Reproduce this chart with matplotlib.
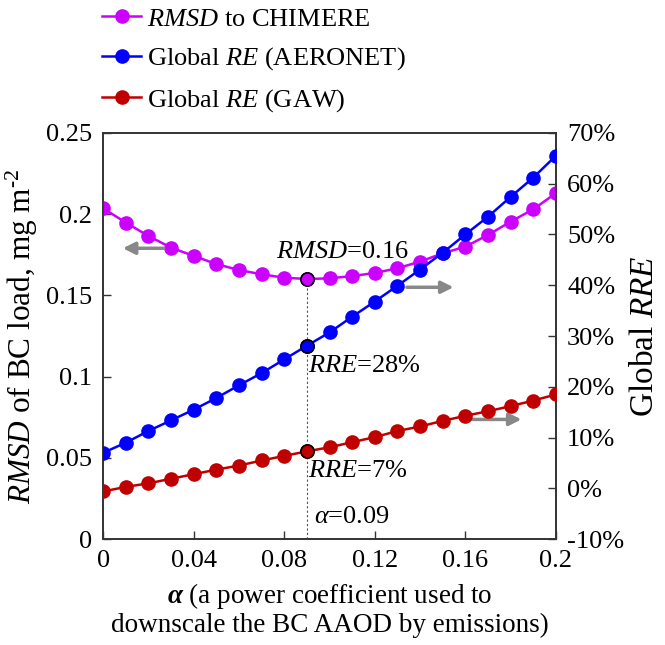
import numpy as np
import matplotlib
matplotlib.use('Agg')
import matplotlib.pyplot as plt
from matplotlib.ticker import FuncFormatter

plt.rcParams['font.family'] = 'Liberation Serif'
plt.rcParams['mathtext.fontset'] = 'custom'
plt.rcParams['mathtext.rm'] = 'Liberation Serif'
plt.rcParams['mathtext.it'] = 'Liberation Serif:italic'
plt.rcParams['mathtext.bf'] = 'Liberation Serif:bold:italic'

# %% data
alpha = [0.00, 0.01, 0.02, 0.03, 0.04, 0.05, 0.06, 0.07, 0.08, 0.09, 0.10,
         0.11, 0.12, 0.13, 0.14, 0.15, 0.16, 0.17, 0.18, 0.19, 0.20]
rmsd = [0.2036, 0.1948, 0.1866, 0.1794, 0.1743, 0.1693, 0.1656, 0.1630, 0.1609,
        0.1601, 0.1605, 0.1619, 0.1638, 0.1667, 0.1708, 0.1759, 0.1800, 0.1872,
        0.1954, 0.2030, 0.2129]
re_aeronet = [7.0, 9.0, 11.3, 13.4, 15.5, 17.8, 20.3, 22.7, 25.4, 28.1, 30.7,
              33.8, 36.8, 39.9, 43.1, 46.4, 50.0, 53.5, 57.4, 61.2, 65.5]
re_gaw = [-0.6, 0.3, 1.0, 1.9, 2.8, 3.7, 4.5, 5.5, 6.4, 7.3, 8.1,
          9.1, 10.1, 11.3, 12.2, 13.3, 14.3, 15.2, 16.2, 17.3, 18.5]
best = 9  # index of alpha = 0.09

c_rmsd = '#cc00ff'
c_aer = '#0000ff'
c_gaw = '#c00000'

# %%
fig = plt.figure(figsize=(6.65, 6.45), dpi=100)
ax = fig.add_axes([0.155, 0.164, 0.681, 0.630])
ax2 = ax.twinx()

l1, = ax.plot(alpha, rmsd, '-o', color=c_rmsd, lw=1.8, ms=9.5, zorder=3)
l2, = ax2.plot(alpha, re_aeronet, '-o', color=c_aer, lw=1.8, ms=9.5, zorder=3)
l3, = ax2.plot(alpha, re_gaw, '-o', color=c_gaw, lw=1.8, ms=9.5, zorder=3)

# highlighted points at the optimum
ax.plot(alpha[best], rmsd[best], 'o', color=c_rmsd, mec='k', mew=1.2, ms=9.5, zorder=4)
ax2.plot(alpha[best], re_aeronet[best], 'o', color=c_aer, mec='k', mew=1.2, ms=9.5, zorder=4)
ax2.plot(alpha[best], re_gaw[best], 'o', color=c_gaw, mec='k', mew=1.2, ms=9.5, zorder=4)
ax.plot([alpha[best], alpha[best]], [0, rmsd[best]], ls=(0, (2, 2)), color='#555555', lw=0.8, zorder=2)

ax.set_xlim(0, 0.2)
ax.set_ylim(0, 0.25)
ax2.set_ylim(-10, 70)

ax.set_xticks([0, 0.04, 0.08, 0.12, 0.16, 0.2])
ax.set_xticklabels(['0', '0.04', '0.08', '0.12', '0.16', '0.2'])
ax.set_yticks([0, 0.05, 0.1, 0.15, 0.2, 0.25])
ax.set_yticklabels(['0', '0.05', '0.1', '0.15', '0.2', '0.25'])
ax2.set_yticks(range(-10, 71, 10))
ax2.yaxis.set_major_formatter(FuncFormatter(lambda v, p: f'{v:.0f}%'))

for a in (ax, ax2):
    a.tick_params(direction='in', labelsize=19, length=6, width=1, colors='#333333',
                  labelcolor='k', pad=8)
    for s in a.spines.values():
        s.set_color('#333333')
        s.set_linewidth(1.2)

# arrows pointing to the axes
arrow = dict(arrowstyle='-|>', color='#888888', lw=2.5, mutation_scale=18)
ax.annotate('', xy=(0.0075, 0.179), xytext=(0.028, 0.179), arrowprops=arrow)
ax.annotate('', xy=(0.156, 0.155), xytext=(0.133, 0.155), arrowprops=arrow)
ax.annotate('', xy=(0.186, 0.0737), xytext=(0.162, 0.0737), arrowprops=arrow)

ax.text(0.1055, 0.177, '$RMSD$=0.16', fontsize=19, ha='center', va='center', zorder=5)
ax2.text(0.0905, 24.2, '$RRE$=28%', fontsize=19, ha='left', va='center', zorder=5)
ax2.text(0.0905, 3.4, '$RRE$=7%', fontsize=19, ha='left', va='center', zorder=5)
ax.text(0.093, 0.0137, r'$\alpha$=0.09', fontsize=19, ha='left', va='center', zorder=5)

ax.set_ylabel(r'$RMSD$ of BC load, mg m$^{\text{-2}}$', fontsize=22.5, labelpad=4)
ax2.set_ylabel('Global $RRE$', fontsize=24, labelpad=4)
ax.set_xlabel(r'$\mathbf{\alpha}$ (a power coefficient used to' + '\n'
              'downscale the BC AAOD by emissions)', fontsize=19.5, labelpad=6,
              linespacing=1.1)

fig.legend([l1, l2, l3],
           ['$RMSD$ to CHIMERE', 'Global $RE$ (AERONET)', 'Global $RE$ (GAW)'],
           loc='upper left', bbox_to_anchor=(0.153, 0.989), frameon=False,
           fontsize=19, handlelength=1.5, handletextpad=0.2, labelspacing=0.56,
           borderpad=0.0, borderaxespad=0.0)

fig.savefig('out.png', dpi=100)
